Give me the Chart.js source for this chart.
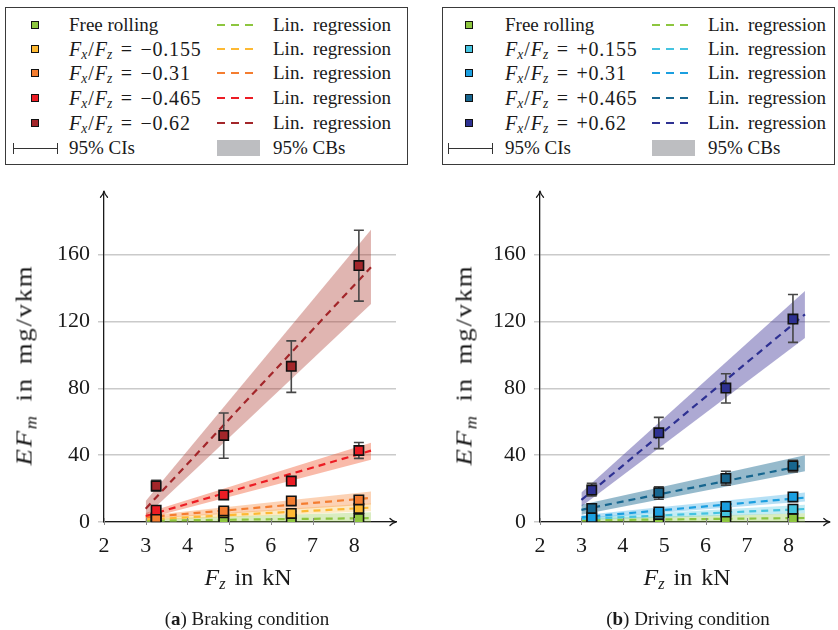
<!DOCTYPE html>
<html>
<head>
<meta charset="utf-8">
<script src="https://cdn.jsdelivr.net/npm/chart.js@4.4.1/dist/chart.umd.min.js"></script>
<style>
  html, body { margin: 0; padding: 0; background: #fff; }
  #page { position: relative; width: 838px; height: 630px; overflow: hidden;
          font-family: 'Liberation Serif', 'DejaVu Serif', serif; color: #1a1a1a; }
  canvas { position: absolute; }
  .box { position: absolute; top: 7px; height: 158px; border: 1px solid #3a3a3a; box-sizing: border-box; }
  .txt { position: absolute; font-size: 19px; line-height: 20px; white-space: nowrap; transform: translateY(-50%); }
  .reg { word-spacing: 4px; }
  .math { font-size: 20px; }
  .num { letter-spacing: 0.8px; }
  .sl { margin: 0 1px; }
  .mk { position: absolute; width: 8px; height: 8px; border: 1px solid #111; box-sizing: border-box; transform: translate(-50%, -50%); }
  .dash { position: absolute; height: 2px; width: 38px; transform: translateY(-50%); }
  .ci { position: absolute; height: 1px; background: #333; }
  .ci:before, .ci:after { content: ''; position: absolute; top: -5px; width: 1px; height: 11px; background: #333; }
  .ci:before { left: 0; } .ci:after { right: 0; }
  .cb { position: absolute; width: 43px; height: 16px; background: #bdbec1; }
  sub { font-size: 0.68em; vertical-align: -0.28em; line-height: 0; }
  .eq { margin: 0 0.42em; }
  .title { position: absolute; font-size: 24px; word-spacing: 3px; white-space: nowrap; transform: translate(-50%, -50%); }
  .ytitle { position: absolute; font-size: 24px; letter-spacing: 1.5px; word-spacing: 4px; white-space: nowrap;
            transform: translate(-50%, -50%) rotate(-90deg) scaleX(1.12); }
  .cap { position: absolute; font-size: 19px; white-space: nowrap; transform: translate(-50%, -50%); }
</style>
</head>
<body>
<div id="page">
  <div class="box" id="legA" style="left:5px; width:403px;"></div>
  <div class="box" id="legB" style="left:442px; width:393px;"></div>
  <canvas id="chartA" width="419" height="430" style="left:0px; top:170px;"></canvas>
  <canvas id="chartB" width="402" height="430" style="left:436px; top:170px;"></canvas>
  <div class="ytitle" style="left:24px; top:365px;"><i>EF</i><sub><i>m</i></sub> in mg/vkm</div>
  <div class="ytitle" style="left:464px; top:365px;"><i>EF</i><sub><i>m</i></sub> in mg/vkm</div>
  <div class="title" style="left:248px; top:577px;"><i>F</i><sub><i>z</i></sub> in kN</div>
  <div class="title" style="left:687px; top:577px;"><i>F</i><sub><i>z</i></sub> in kN</div>
  <div class="cap" style="left:247px; top:619px;">(<b>a</b>) Braking condition</div>
  <div class="cap" style="left:688px; top:619px;">(<b>b</b>) Driving condition</div>
</div>
<script>
// Measurement positions (wheel load, kN) and the span of the fitted lines/bands
const FZ = [3.25, 4.87, 6.49, 8.11];
const FIT_X = [3.0, 8.4];
const X_TICKS = [2, 3, 4, 5, 6, 7, 8];
const Y_TICKS = [0, 40, 80, 120, 160];

// ---- Braking condition ----
const brakeLabels = ['Free rolling', '\u22120.155', '\u22120.31', '\u22120.465', '\u22120.62'];

const brakeFree       = [1.0, 1.6, 1.6, 2.0];
const brakeFreeCiLo   = [0.4, 1.0, 1.0, 1.3];
const brakeFreeCiHi   = [1.6, 2.2, 2.2, 2.7];
const brakeFreeFit    = [0.8, 2.3];
const brakeFreeBandLo = [0.0, -1.0];
const brakeFreeBandHi = [2.0, 5.8];

const brake155        = [1.5, 5.5, 5.1, 8.1];
const brake155CiLo    = [0.8, 4.5, 3.8, 6.8];
const brake155CiHi    = [2.2, 6.5, 6.4, 9.4];
const brake155Fit     = [1.5, 8.6];
const brake155BandLo  = [0.8, 6.5];
const brake155BandHi  = [2.4, 11.2];

const brake31         = [2.6, 6.6, 12.6, 13.2];
const brake31CiLo     = [1.6, 5.4, 10.2, 11.0];
const brake31CiHi     = [3.6, 7.8, 15.0, 15.6];
const brake31Fit      = [2.8, 14.4];
const brake31BandLo   = [1.8, 10.5];
const brake31BandHi   = [3.8, 18.2];

const brake465        = [7.1, 16.2, 24.5, 42.8];
const brake465CiLo    = [5.6, 14.8, 21.9, 38.1];
const brake465CiHi    = [8.6, 17.6, 26.9, 47.6];
const brake465Fit     = [3.6, 42.7];
const brake465BandLo  = [2.0, 37.2];
const brake465BandHi  = [5.4, 47.5];

const brake62         = [21.6, 51.8, 93.2, 153.5];
const brake62CiLo     = [18.6, 38.2, 77.6, 132.2];
const brake62CiHi     = [24.9, 65.2, 108.4, 174.6];
const brake62Fit      = [8.0, 152.5];
const brake62BandLo   = [3.5, 130.5];
const brake62BandHi   = [12.5, 175.0];

const brakeColors = ['#8dc63f', '#fdb933', '#f47d30', '#ec1c24', '#a3262a'];
const brakeBands  = ['rgba(141,198,63,0.33)', 'rgba(253,190,70,0.32)', 'rgba(246,130,50,0.36)',
                     'rgba(240,90,50,0.42)', 'rgba(170,50,40,0.36)'];

// ---- Driving condition ----
const driveLabels = ['Free rolling', '+0.155', '+0.31', '+0.465', '+0.62'];

const driveFree       = [1.2, 1.9, 1.9, 2.0];
const driveFreeCiLo   = [0.6, 1.3, 1.3, 1.3];
const driveFreeCiHi   = [1.8, 2.5, 2.5, 2.7];
const driveFreeFit    = [1.0, 2.4];
const driveFreeBandLo = [0.0, -0.5];
const driveFreeBandHi = [2.2, 5.3];

const drive155        = [1.6, 4.5, 5.9, 7.7];
const drive155CiLo    = [0.9, 3.6, 4.8, 6.5];
const drive155CiHi    = [2.3, 5.4, 7.0, 8.9];
const drive155Fit     = [1.8, 7.8];
const drive155BandLo  = [1.0, 5.3];
const drive155BandHi  = [2.8, 10.3];

const drive31         = [2.8, 6.0, 9.3, 15.0];
const drive31CiLo     = [2.0, 4.9, 7.8, 13.4];
const drive31CiHi     = [3.6, 7.1, 10.8, 16.6];
const drive31Fit      = [2.8, 14.6];
const drive31BandLo   = [1.8, 12.2];
const drive31BandHi   = [4.0, 17.6];

const drive465        = [8.1, 17.6, 26.1, 33.6];
const drive465CiLo    = [6.0, 13.6, 22.1, 30.0];
const drive465CiHi    = [10.2, 21.1, 30.4, 36.9];
const drive465Fit     = [7.3, 34.0];
const drive465BandLo  = [4.3, 30.4];
const drive465BandHi  = [10.3, 39.9];

const drive62         = [19.1, 53.4, 80.2, 121.5];
const drive62CiLo     = [15.6, 43.9, 71.2, 107.5];
const drive62CiHi     = [23.1, 62.6, 88.7, 136.2];
const drive62Fit      = [13.2, 124.3];
const drive62BandLo   = [9.3, 110.1];
const drive62BandHi   = [17.6, 138.2];

const driveColors = ['#8dc63f', '#45c4e0', '#1b9fe0', '#17668f', '#2e3192'];
const driveBands  = ['rgba(141,198,63,0.33)', 'rgba(69,196,224,0.32)', 'rgba(27,159,224,0.32)',
                     'rgba(23,102,143,0.45)', 'rgba(60,50,150,0.42)'];

const brakeSeries = [
  [brakeFree, brakeFreeCiLo, brakeFreeCiHi, brakeFreeFit, brakeFreeBandLo, brakeFreeBandHi],
  [brake155, brake155CiLo, brake155CiHi, brake155Fit, brake155BandLo, brake155BandHi],
  [brake31, brake31CiLo, brake31CiHi, brake31Fit, brake31BandLo, brake31BandHi],
  [brake465, brake465CiLo, brake465CiHi, brake465Fit, brake465BandLo, brake465BandHi],
  [brake62, brake62CiLo, brake62CiHi, brake62Fit, brake62BandLo, brake62BandHi]
];
const driveSeries = [
  [driveFree, driveFreeCiLo, driveFreeCiHi, driveFreeFit, driveFreeBandLo, driveFreeBandHi],
  [drive155, drive155CiLo, drive155CiHi, drive155Fit, drive155BandLo, drive155BandHi],
  [drive31, drive31CiLo, drive31CiHi, drive31Fit, drive31BandLo, drive31BandHi],
  [drive465, drive465CiLo, drive465CiHi, drive465Fit, drive465BandLo, drive465BandHi],
  [drive62, drive62CiLo, drive62CiHi, drive62Fit, drive62BandLo, drive62BandHi]
];

const FONT = "'Liberation Serif', 'DejaVu Serif', serif";

function buildDatasets(series, colors, bands) {
  const ds = [];
  series.forEach(([vals, lo, hi, fit, bLo, bHi], k) => {
    // confidence band: lower edge + upper edge filled down to it
    ds.push({ type: 'line', data: FIT_X.map((x, i) => ({ x, y: bLo[i] })),
              borderWidth: 0, pointRadius: 0, fill: false, order: 30 - k });
    ds.push({ type: 'line', data: FIT_X.map((x, i) => ({ x, y: bHi[i] })),
              borderWidth: 0, pointRadius: 0, fill: '-1', backgroundColor: bands[k], order: 30 - k });
  });
  series.forEach(([vals, lo, hi, fit], k) => {
    ds.push({ type: 'line', data: FIT_X.map((x, i) => ({ x, y: fit[i] })),
              borderColor: colors[k], borderWidth: 2.2, borderDash: [7, 5],
              pointRadius: 0, fill: false, order: 15 - k });
  });
  series.forEach(([vals, lo, hi], k) => {
    ds.push({ type: 'scatter', data: FZ.map((x, i) => ({ x, y: vals[i] })),
              ciLo: lo, ciHi: hi,
              pointStyle: 'rect', pointRadius: 6.6, backgroundColor: colors[k],
              borderColor: '#111', borderWidth: 1.6, order: 5 - k });
  });
  return ds;
}

// error bars are painted just before each marker set, so markers sit on top
const errorBars = {
  id: 'errorBars',
  beforeDatasetDraw(chart, args) {
    const ds = chart.data.datasets[args.index];
    if (!ds.ciLo) return;
    const xs = chart.scales.x, ys = chart.scales.y, ctx = chart.ctx;
    ctx.save();
    ctx.strokeStyle = '#464646';
    ctx.lineWidth = 1.6;
    ds.data.forEach((p, i) => {
      const px = xs.getPixelForValue(p.x);
      const y1 = ys.getPixelForValue(ds.ciLo[i]);
      const y2 = ys.getPixelForValue(ds.ciHi[i]);
      ctx.beginPath();
      ctx.moveTo(px, y1); ctx.lineTo(px, y2);
      ctx.moveTo(px - 5, y1); ctx.lineTo(px + 5, y1);
      ctx.moveTo(px - 5, y2); ctx.lineTo(px + 5, y2);
      ctx.stroke();
    });
    ctx.restore();
  }
};

// arrow tips on both axes and short x ticks straddling the axis line
const axisDecor = {
  id: 'axisDecor',
  afterDraw(chart) {
    const a = chart.chartArea, ctx = chart.ctx, xs = chart.scales.x;
    ctx.save();
    ctx.strokeStyle = '#8a8a8a';
    ctx.lineWidth = 1;
    ctx.beginPath();
    xs.ticks.forEach(t => {
      const px = Math.round(xs.getPixelForValue(t.value)) + 0.5;
      ctx.moveTo(px, a.bottom - 4); ctx.lineTo(px, a.bottom + 3);
    });
    ctx.stroke();
    ctx.strokeStyle = '#1a1a1a';
    ctx.lineWidth = 1.3;
    ctx.lineCap = 'round';
    ctx.beginPath();
    ctx.moveTo(a.left - 3.5, a.top + 6); ctx.quadraticCurveTo(a.left - 0.5, a.top + 3, a.left, a.top);
    ctx.moveTo(a.left + 3.5, a.top + 6); ctx.quadraticCurveTo(a.left + 0.5, a.top + 3, a.left, a.top);
    ctx.moveTo(a.right - 6, a.bottom - 3.5); ctx.quadraticCurveTo(a.right - 3, a.bottom - 0.5, a.right, a.bottom);
    ctx.moveTo(a.right - 6, a.bottom + 3.5); ctx.quadraticCurveTo(a.right - 3, a.bottom + 0.5, a.right, a.bottom);
    ctx.stroke();
    ctx.restore();
  }
};

function makeChart(id, series, colors, bands, padRight) {
  return new Chart(document.getElementById(id), {
    data: { datasets: buildDatasets(series, colors, bands) },
    plugins: [errorBars, axisDecor],
    options: {
      responsive: false,
      animation: false,
      events: [],
      devicePixelRatio: 1,
      layout: { padding: { left: 0, top: 18, right: padRight, bottom: 0 } },
      plugins: { legend: { display: false }, tooltip: { enabled: false } },
      scales: {
        x: {
          type: 'linear', min: 2, max: 9,
          afterBuildTicks: s => { s.ticks = X_TICKS.map(v => ({ value: v })); },
          afterFit: s => { s.height = 78; },
          grid: { drawOnChartArea: false, drawTicks: false },
          border: { color: '#1a1a1a', width: 1.3 },
          ticks: { padding: 11, maxRotation: 0, color: '#1a1a1a', font: { family: FONT, size: 22 } }
        },
        y: {
          type: 'linear', min: 0, max: 198,
          afterBuildTicks: s => { s.ticks = Y_TICKS.map(v => ({ value: v })); },
          afterFit: s => { s.width = 104; },
          grid: { color: '#cacaca', lineWidth: 1.5, tickLength: 6 },
          border: { color: '#1a1a1a', width: 1.3 },
          ticks: { padding: 8, color: '#1a1a1a', font: { family: FONT, size: 22 } }
        }
      }
    }
  });
}

makeChart('chartA', brakeSeries, brakeColors, brakeBands, 23);
makeChart('chartB', driveSeries, driveColors, driveBands, 7);

// legends
function mathLabel(txt) {
  if (txt === 'Free rolling') return 'Free rolling';
  return '<span class="math"><i>F</i><sub><i>x</i></sub><span class="sl">/</span><i>F</i><sub><i>z</i></sub>' +
         '<span class="eq">=</span><span class="num">' + txt + '</span></span>';
}
function buildLegend(boxId, labels, colors, o) {
  const box = document.getElementById(boxId);
  const rowsY = [17, 41, 65, 90, 115];
  let html = '';
  labels.forEach((lab, k) => {
    const y = rowsY[k];
    html += `<div class="mk" style="left:${o.mk}px; top:${y}px; background:${colors[k]}"></div>`;
    html += `<div class="txt" style="left:${o.lab}px; top:${y}px;">${mathLabel(lab)}</div>`;
    html += `<div class="dash" style="left:${o.dash}px; top:${y}px; background:repeating-linear-gradient(to right, ${colors[k]} 0 8px, transparent 8px 14px);"></div>`;
    html += `<div class="txt reg" style="left:${o.reg}px; top:${y}px;">Lin. regression</div>`;
  });
  const yc = 140;
  html += `<div class="ci" style="left:${o.ci}px; width:45px; top:${yc}px;"></div>`;
  html += `<div class="txt" style="left:${o.lab}px; top:${yc}px;">95% CIs</div>`;
  html += `<div class="cb" style="left:${o.dash}px; top:${yc - 8}px;"></div>`;
  html += `<div class="txt" style="left:${o.reg}px; top:${yc}px;">95% CBs</div>`;
  box.innerHTML = html;
}
buildLegend('legA', brakeLabels, brakeColors, { mk: 29, lab: 63, dash: 211, reg: 267, ci: 7 });
buildLegend('legB', driveLabels, driveColors, { mk: 26, lab: 62, dash: 209, reg: 265, ci: 5 });
</script>
</body>
</html>
